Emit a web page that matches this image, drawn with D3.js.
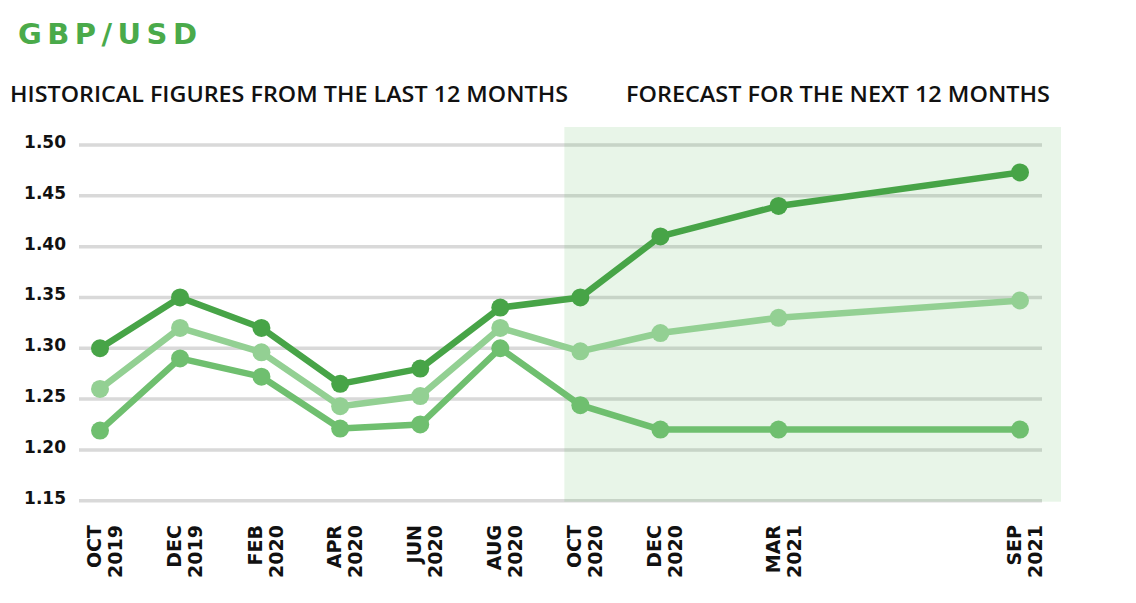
<!DOCTYPE html>
<html>
<head>
<meta charset="utf-8">
<script src="https://cdn.jsdelivr.net/npm/d3@7"></script>
<style>
  html, body { margin: 0; padding: 0; background: #ffffff; }
  svg { display: block; }
</style>
</head>
<body>
<svg id="chart" width="1136" height="603"></svg>
<script>
// ---- data ----
const months = ["2019-10", "2019-12", "2020-02", "2020-04", "2020-06", "2020-08", "2020-10", "2020-12", "2021-03", "2021-09"];
const monthLabels = ["OCT", "DEC", "FEB", "APR", "JUN", "AUG", "OCT", "DEC", "MAR", "SEP"];
const yearLabels = ["2019", "2019", "2020", "2020", "2020", "2020", "2020", "2020", "2021", "2021"];
const highSeries = [1.30, 1.35, 1.32, 1.265, 1.28, 1.34, 1.35, 1.41, 1.44, 1.473];
const midSeries = [1.26, 1.32, 1.296, 1.243, 1.253, 1.32, 1.297, 1.315, 1.33, 1.347];
const lowSeries = [1.219, 1.29, 1.272, 1.221, 1.225, 1.30, 1.244, 1.22, 1.22, 1.22];
const yTicks = [1.15, 1.20, 1.25, 1.30, 1.35, 1.40, 1.45, 1.50];
const forecastStart = "2020-10";
const titleText = "GBP/USD";
const historyText = "HISTORICAL FIGURES FROM THE LAST 12 MONTHS";
const forecastText = "FORECAST FOR THE NEXT 12 MONTHS";

// ---- layout ----
const svg = d3.select("#chart");
const parse = d3.utcParse("%Y-%m");
const dates = months.map(parse);
const gridLeft = 79, gridRight = 1042;

const x = d3.scaleUtc()
  .domain([dates[0], dates[dates.length - 1]])
  .range([100, 1020]);
const y = d3.scaleLinear()
  .domain([1.15, 1.50])
  .range([500.7, 145]);

const dark = "#47a447", mid = "#6fbf6f", light = "#93d093";

// gridlines
svg.append("g").selectAll("line")
  .data(yTicks).join("line")
  .attr("x1", gridLeft).attr("x2", gridRight)
  .attr("y1", d => y(d)).attr("y2", d => y(d))
  .attr("stroke", "#d9d9d9").attr("stroke-width", 3.5);

// forecast band (semi-transparent over gridlines)
const bandX = x(parse(forecastStart)) - 16;
svg.append("rect")
  .attr("x", bandX).attr("y", 127)
  .attr("width", gridRight + 19 - bandX)
  .attr("height", y(1.15) + 1 - 127)
  .attr("fill", "rgb(76,175,80)").attr("fill-opacity", 0.13);

// y labels
svg.append("g").selectAll("text")
  .data(yTicks).join("text")
  .attr("x", 66).attr("y", d => y(d) + 3)
  .attr("text-anchor", "end")
  .attr("font-family", "DejaVu Sans").attr("font-weight", "bold")
  .attr("font-size", 17).attr("fill", "#111")
  .text(d3.format(".2f"));

// x labels (rotated two-line)
const xl = svg.append("g");
dates.forEach((d, i) => {
  const g = xl.append("g").attr("transform", `translate(${x(d)},525) rotate(-90)`);
  g.append("text").attr("x", 0).attr("y", 1)
    .attr("text-anchor", "end")
    .attr("font-family", "DejaVu Sans").attr("font-weight", "bold")
    .attr("font-size", 19).attr("fill", "#111")
    .text(monthLabels[i]);
  g.append("text").attr("x", 0).attr("y", 22)
    .attr("text-anchor", "end")
    .attr("font-family", "DejaVu Sans").attr("font-weight", "bold")
    .attr("font-size", 19).attr("fill", "#111")
    .text(yearLabels[i]);
});

// series
const seriesList = [
  { values: midSeries, color: light },
  { values: lowSeries, color: mid },
  { values: highSeries, color: dark }
];
const line = d3.line().x((d, i) => x(dates[i])).y(d => y(d));
seriesList.forEach(s => {
  svg.append("path")
    .datum(s.values)
    .attr("d", line)
    .attr("fill", "none")
    .attr("stroke", s.color)
    .attr("stroke-width", 6.5)
    .attr("stroke-linejoin", "round");
  svg.append("g").selectAll("circle")
    .data(s.values).join("circle")
    .attr("cx", (d, i) => x(dates[i]))
    .attr("cy", d => y(d))
    .attr("r", 9)
    .attr("fill", s.color);
});

// title and headers
svg.append("text")
  .attr("x", 18).attr("y", 44)
  .attr("font-family", "DejaVu Sans").attr("font-weight", "bold")
  .attr("font-size", 29).attr("fill", "#4aaa4a")
  .attr("textLength", 179).attr("lengthAdjust", "spacing")
  .text(titleText);

svg.append("text")
  .attr("x", 10).attr("y", 102)
  .attr("font-family", "Open Sans").attr("font-weight", 600)
  .attr("font-size", 21).attr("fill", "#111")
  .attr("textLength", 558).attr("lengthAdjust", "spacingAndGlyphs")
  .text(historyText);

svg.append("text")
  .attr("x", 626).attr("y", 102)
  .attr("font-family", "Open Sans").attr("font-weight", 600)
  .attr("font-size", 21).attr("fill", "#111")
  .attr("textLength", 424).attr("lengthAdjust", "spacingAndGlyphs")
  .text(forecastText);
</script>
</body>
</html>
